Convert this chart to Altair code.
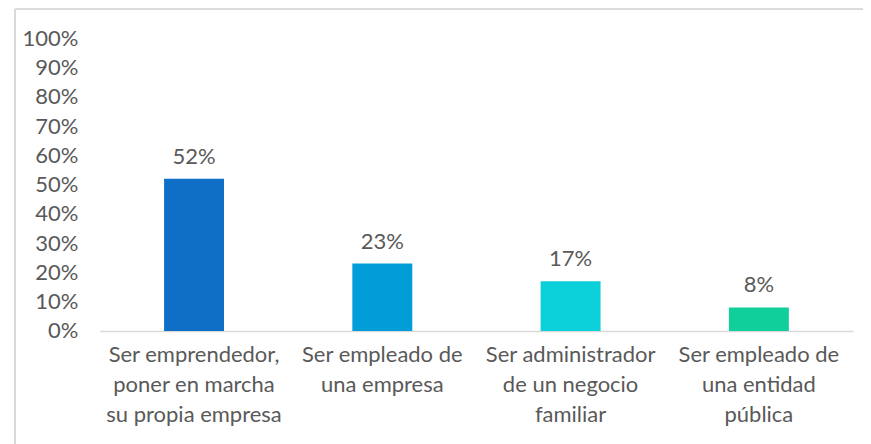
import altair as alt
import pandas as pd

categories = [
    "Ser emprendedor,\nponer en marcha\nsu propia empresa",
    "Ser empleado de\nuna empresa",
    "Ser administrador\nde un negocio\nfamiliar",
    "Ser empleado de\nuna entidad\npública",
]
values = [0.52, 0.23, 0.17, 0.08]
colors = ["#0F6FC6", "#009DD9", "#0BD0D9", "#10CF9B"]
y_ticks = [i / 10 for i in range(11)]

df = pd.DataFrame({"cat": categories, "val": values})

FONT = "Lato"
FS = 22
TXT = "#595959"

x_enc = alt.X(
    "cat:N",
    sort=categories,
    title=None,
    scale=alt.Scale(paddingInner=0.68, paddingOuter=0.34),
    axis=alt.Axis(
        labelAngle=0,
        labelExpr="split(datum.label, '\\n')",
        labelFont=FONT,
        labelFontSize=FS,
        labelColor=TXT,
        labelLineHeight=30,
        labelPadding=14,
        labelBaseline="top",
        labelOverlap=False,
        labelLimit=300,
        ticks=False,
        domainColor="#D9D9D9",
        domainWidth=1.5,
        grid=False,
    ),
)
y_enc = alt.Y(
    "val:Q",
    title=None,
    scale=alt.Scale(domain=[0, 1]),
    axis=alt.Axis(
        values=y_ticks,
        format=".0%",
        labelFont=FONT,
        labelFontSize=FS,
        labelColor=TXT,
        labelPadding=22,
        labelOverlap=False,
        ticks=False,
        domain=False,
        grid=False,
    ),
)

bars = alt.Chart(df).mark_bar(size=60).encode(
    x=x_enc,
    y=y_enc,
    color=alt.Color("cat:N", sort=categories, scale=alt.Scale(domain=categories, range=colors), legend=None),
)
labels = alt.Chart(df).mark_text(
    baseline="bottom", dy=-10, font=FONT, fontSize=FS, color=TXT
).encode(x=x_enc, y=y_enc, text=alt.Text("val:Q", format=".0%"))

border_top = alt.Chart(df).mark_rule(color="#D9D9D9", strokeWidth=1.5).encode(
    x=alt.value(-85), x2=alt.value(900), y=alt.value(-29)
)
border_left = alt.Chart(df).mark_rule(color="#D9D9D9", strokeWidth=1.5).encode(
    x=alt.value(-85), y=alt.value(-29), y2=alt.value(500)
)

chart = (
    alt.layer(bars, labels, border_top, border_left)
    .properties(
        width=754,
        height=293,
        autosize=alt.AutoSizeParams(type="none"),
        padding={"left": 92, "top": 30, "right": 10, "bottom": 120},
        background="white",
    )
    .configure_view(stroke=None)
)

chart.save("out.html", embed_options={"renderer": "svg", "actions": False})
